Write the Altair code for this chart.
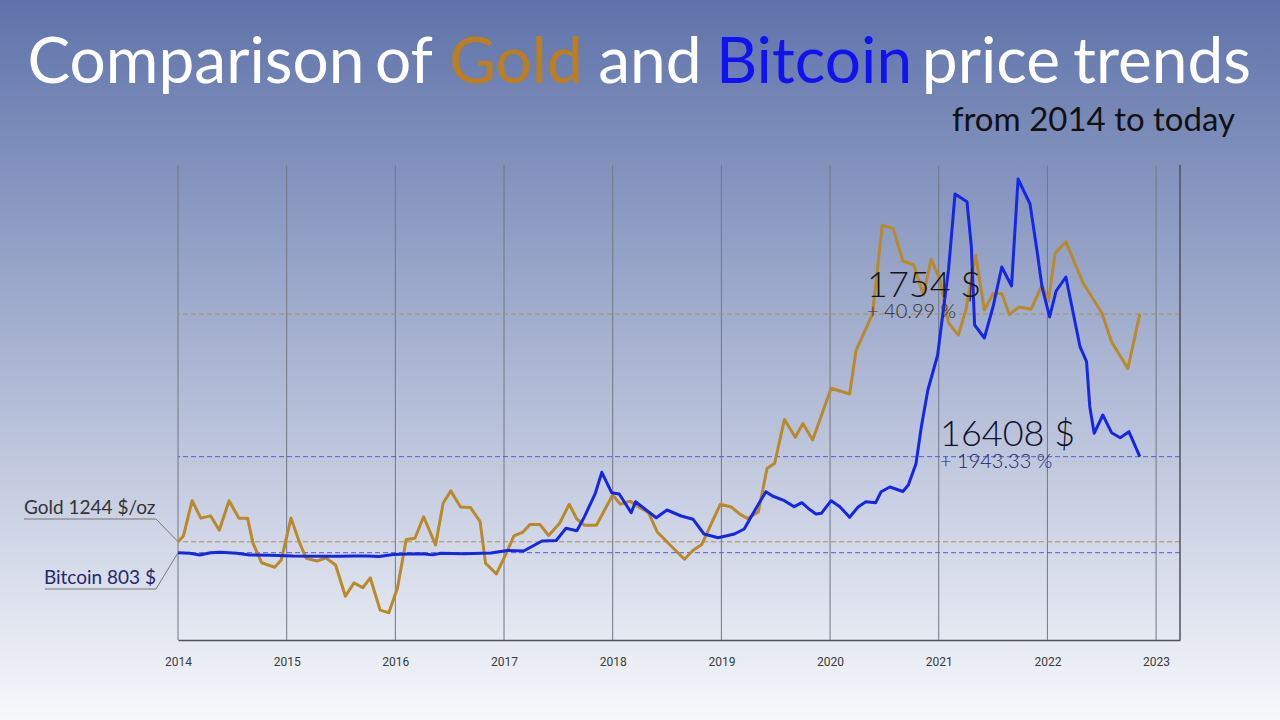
import altair as alt
import pandas as pd

# ---------------- data ----------------
gold_t = [2014.00, 2014.05, 2014.13, 2014.21, 2014.30, 2014.38, 2014.47, 2014.56, 2014.64, 2014.69,
          2014.77, 2014.89, 2014.95, 2015.04, 2015.12, 2015.18, 2015.28, 2015.36, 2015.45, 2015.54,
          2015.62, 2015.70, 2015.77, 2015.86, 2015.94, 2016.02, 2016.10, 2016.18, 2016.26, 2016.37,
          2016.44, 2016.51, 2016.60, 2016.69, 2016.78, 2016.83, 2016.93, 2017.03, 2017.09, 2017.17,
          2017.24, 2017.33, 2017.41, 2017.51, 2017.60, 2017.67, 2017.74, 2017.85, 2018.00, 2018.07,
          2018.16, 2018.24, 2018.33, 2018.41, 2018.54, 2018.66, 2018.74, 2018.82, 2018.90, 2018.99,
          2019.09, 2019.17, 2019.24, 2019.34, 2019.42, 2019.49, 2019.58, 2019.68, 2019.75, 2019.84,
          2020.01, 2020.18, 2020.24, 2020.39, 2020.48, 2020.58, 2020.67, 2020.77, 2020.86, 2020.93,
          2021.01, 2021.09, 2021.18, 2021.25, 2021.34, 2021.42, 2021.50, 2021.58, 2021.65, 2021.74,
          2021.85, 2021.95, 2022.01, 2022.07, 2022.17, 2022.33, 2022.50, 2022.59, 2022.74, 2022.85]
gold_v = [1244, 1257, 1336, 1297, 1302, 1270, 1336, 1297, 1297, 1241,
          1197, 1187, 1203, 1297, 1241, 1207, 1201, 1208, 1192, 1122,
          1152, 1141, 1163, 1091, 1085, 1141, 1249, 1252, 1300, 1237,
          1331, 1358, 1322, 1321, 1289, 1196, 1172, 1223, 1257, 1265,
          1283, 1283, 1258, 1285, 1328, 1295, 1281, 1281, 1349, 1328,
          1335, 1322, 1309, 1266, 1234, 1205, 1225, 1238, 1281, 1328,
          1322, 1306, 1296, 1311, 1408, 1420, 1518, 1478, 1509, 1472,
          1588, 1575, 1673, 1754, 1953, 1946, 1873, 1864, 1797, 1877,
          1832, 1735, 1707, 1763, 1886, 1763, 1800, 1800, 1753, 1770,
          1765, 1819, 1783, 1890, 1916, 1823, 1757, 1692, 1632, 1754]

btc_t = [2014.00, 2014.11, 2014.20, 2014.30, 2014.39, 2014.54, 2014.66, 2014.85, 2015.06, 2015.31,
         2015.49, 2015.62, 2015.74, 2015.85, 2015.98, 2016.12, 2016.25, 2016.34, 2016.42, 2016.63,
         2016.88, 2017.03, 2017.18, 2017.35, 2017.48, 2017.57, 2017.67, 2017.74, 2017.84, 2017.90,
         2017.99, 2018.06, 2018.17, 2018.21, 2018.40, 2018.50, 2018.63, 2018.74, 2018.84, 2018.97,
         2019.12, 2019.21, 2019.30, 2019.41, 2019.47, 2019.58, 2019.67, 2019.74, 2019.81, 2019.87,
         2019.92, 2020.01, 2020.09, 2020.18, 2020.26, 2020.33, 2020.42, 2020.47, 2020.55, 2020.67,
         2020.72, 2020.79, 2020.84, 2020.90, 2020.99, 2021.04, 2021.09, 2021.15, 2021.26, 2021.30,
         2021.33, 2021.42, 2021.50, 2021.58, 2021.67, 2021.73, 2021.84, 2021.91, 2021.95, 2022.02,
         2022.08, 2022.17, 2022.30, 2022.36, 2022.39, 2022.43, 2022.51, 2022.59, 2022.67, 2022.75,
         2022.85]
btc_v = [803, 705, 429, 803, 868, 705, 429, 380, 260, 240,
         230, 260, 280, 200, 500, 600, 650, 450, 700, 650,
         750, 1160, 1080, 2705, 2786, 4769, 4379, 6655, 10458, 13872,
         10556, 10345, 7305, 9093, 6492, 7744, 6769, 6232, 3843, 3241,
         3843, 4655, 7468, 10719, 10020, 9256, 8280, 8931, 7858, 7094,
         7208, 9256, 8280, 6557, 8280, 9093, 8931, 10719, 11483, 10751,
         11808, 15221, 21284, 27250, 32940, 39978, 46756, 59110, 57858, 50543,
         37815, 35703, 40790, 47244, 44155, 61548, 57484, 49194, 44042, 39116,
         43343, 45618, 34288, 31850, 24535, 20212, 23186, 20309, 19496, 20472,
         16408]

gold_ref = [1244, 1754]
btc_ref = [803, 16408]
years = list(range(2014, 2024))

title_words = ["Comparison", "of", "Gold", "and", "Bitcoin", "price", "trends"]
subtitle = "from 2014 to today"
gold_label = "Gold 1244 $/oz"
btc_label = "Bitcoin 803 $"
gold_end_label = "1754 $"
gold_pct_label = "+ 40.99 %"
btc_end_label = "16408 $"
btc_pct_label = "+ 1943.33 %"

# ---------------- styling ----------------
W, H = 1002, 475
PAD_L, PAD_T = 178, 165
FONT = "Lato"
GOLD_LINE = "#B88A2A"
GOLD_TITLE = "#BE7E1C"
BTC_LINE = "#1626E6"
BTC_TITLE = "#1212F0"

gold_df = pd.DataFrame({"t": gold_t, "v": gold_v})
btc_df = pd.DataFrame({"t": btc_t, "v": btc_v})
year_df = pd.DataFrame({"t": years})
one = pd.DataFrame({"a": [0]})

xscale = alt.Scale(domain=[2014, 2023.22], nice=False, zero=False)
gold_scale = alt.Scale(domain=[1024, 2088], nice=False, zero=False)
btc_scale = alt.Scale(domain=[-13388, 63824], nice=False, zero=False)

xaxis = alt.Axis(values=years, format="d", grid=False, zindex=1,
                 ticks=False, domainColor="#4d525c", domainWidth=1.5, title=None,
                 labelFont="Roboto", labelFontSize=12,
                 labelColor="#3a3a3a", labelPadding=16, labelFlush=False)

bg = alt.Chart(one).mark_rect(
    color=alt.Gradient(gradient="linear", x1=0, x2=0, y1=0, y2=1,
                       stops=[alt.GradientStop(color="#5f73aa", offset=0),
                              alt.GradientStop(color="#f7f8fb", offset=1)])
).encode(x=alt.value(-PAD_L), x2=alt.value(1280 - PAD_L),
         y=alt.value(-PAD_T), y2=alt.value(720 - PAD_T))

grid = alt.Chart(year_df).mark_rule(color="#727784", strokeWidth=1).encode(
    x=alt.X("t:Q", scale=xscale, axis=xaxis))

gold_line = alt.Chart(gold_df).mark_line(color=GOLD_LINE, strokeWidth=3, strokeJoin="round").encode(
    x=alt.X("t:Q", scale=xscale, axis=xaxis),
    y=alt.Y("v:Q", scale=gold_scale, axis=None))
gold_rules = alt.Chart(pd.DataFrame({"v": gold_ref})).mark_rule(
    color="#AE8C58", strokeDash=[5, 3], strokeWidth=1).encode(
    y=alt.Y("v:Q", scale=gold_scale, axis=None))

btc_line = alt.Chart(btc_df).mark_line(color=BTC_LINE, strokeWidth=3, strokeJoin="round").encode(
    x=alt.X("t:Q", scale=xscale, axis=xaxis),
    y=alt.Y("v:Q", scale=btc_scale, axis=None))
btc_rules = alt.Chart(pd.DataFrame({"v": btc_ref})).mark_rule(
    color="#4b5be0", strokeDash=[5, 3], strokeWidth=1).encode(
    y=alt.Y("v:Q", scale=btc_scale, axis=None))

right_border = alt.Chart(one).mark_rule(color="#4d525c", strokeWidth=1.5).encode(
    x=alt.value(W), y=alt.value(0), y2=alt.value(H))


def txt(text, x, y, size, color, align="left", font=FONT, weight=400):
    return alt.Chart(one).mark_text(text=text, font=font, fontSize=size, color=color,
                                    align=align, baseline="alphabetic", fontWeight=weight).encode(
        x=alt.value(x - PAD_L), y=alt.value(y - PAD_T))


def seg(x1, y1, x2, y2, color="#777777"):
    return alt.Chart(one).mark_rule(color=color, strokeWidth=1).encode(
        x=alt.value(x1 - PAD_L), y=alt.value(y1 - PAD_T),
        x2=alt.value(x2 - PAD_L), y2=alt.value(y2 - PAD_T))


title_centers = [196, 404, 516, 650, 814, 991, 1162]
title_colors = ["white", "white", GOLD_TITLE, "white", BTC_TITLE, "white", "white"]
title_layers = [txt(w, cx, 83, 64, c, align="center")
                for w, cx, c in zip(title_words, title_centers, title_colors)]

annots = [
    txt(subtitle, 1235, 131, 33, "#111111", align="right"),
    txt(gold_end_label, 867, 297, 36, "#161616", weight=300),
    txt(gold_pct_label, 867, 318, 20, "#33302c", weight=300),
    txt(btc_end_label, 940, 446, 36, "#10102a", weight=300),
    txt(btc_pct_label, 940, 468, 20, "#22226a", weight=300),
    txt(gold_label, 24, 514, 19, "#333333"),
    txt(btc_label, 156, 584, 19, "#27276e", align="right"),
    seg(24, 519, 156, 519), seg(156, 519, 178, 541.7),
    seg(45, 589, 156, 589), seg(156, 589, 178, 552.7),
]

chart = alt.layer(
    bg, grid, gold_rules, btc_rules, gold_line, btc_line, right_border, *title_layers, *annots
).resolve_scale(y="independent").properties(
    width=W, height=H,
    padding={"left": PAD_L, "top": PAD_T, "right": 1280 - PAD_L - W, "bottom": 720 - PAD_T - H},
    autosize=alt.AutoSizeParams(type="none"),
    background="#f7f8fb",
).configure_view(stroke=None)

chart.save("out.html", embed_options={"renderer": "svg", "actions": False})
